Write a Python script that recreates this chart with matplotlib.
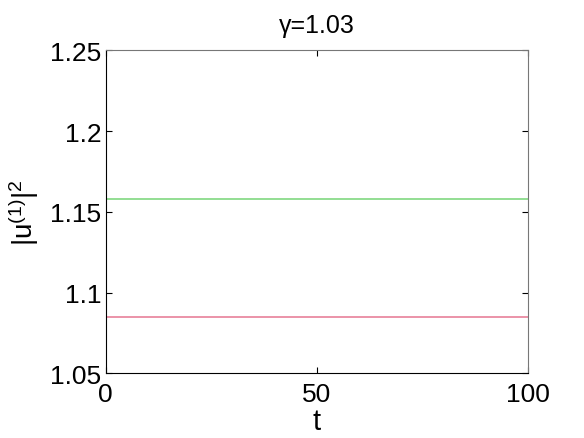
import matplotlib
matplotlib.use("Agg")
import matplotlib.pyplot as plt
import numpy as np

plt.rcParams['font.family'] = ['Liberation Sans', 'DejaVu Sans']
plt.rcParams['mathtext.fontset'] = 'custom'
plt.rcParams['mathtext.rm'] = 'Liberation Sans'
plt.rcParams['mathtext.it'] = 'Liberation Sans'
plt.rcParams['mathtext.default'] = 'regular'

t = [0, 100]
green_level = [1.158, 1.158]
red_level = [1.0848, 1.0848]
xticks = [0, 50, 100]
yticks = [1.05, 1.1, 1.15, 1.2, 1.25]
ytick_labels = ['1.05', '1.1', '1.15', '1.2', '1.25']

fig = plt.figure(figsize=(5.84, 4.39), dpi=100)
ax = fig.add_axes([0.181, 0.147, 0.723, 0.736])
ax.plot(t, green_level, color='#80d880', lw=1.2)
ax.plot(t, red_level, color='#e8809a', lw=1.2)
ax.set_xlim(0, 100)
ax.set_ylim(1.05, 1.25)
ax.set_xticks(xticks)
ax.set_xticklabels([str(v) for v in xticks])
ax.set_yticks(yticks)
ax.set_yticklabels(ytick_labels)
ax.tick_params(direction='in', length=4, width=0.8, labelsize=19, top=True, right=True, pad=3)
ax.tick_params(axis='x', pad=6)
for s in ['left', 'bottom']:
    ax.spines[s].set_color('black')
for s in ['top', 'right']:
    ax.spines[s].set_color('#777777')
ax.set_title('γ=1.03', fontsize=18, pad=13)
ax.set_xlabel('t', fontsize=21, labelpad=1)
ax.set_ylabel('$|u^{(1)}|^2$', fontsize=20, labelpad=7)
fig.savefig('out.png', dpi=100)
